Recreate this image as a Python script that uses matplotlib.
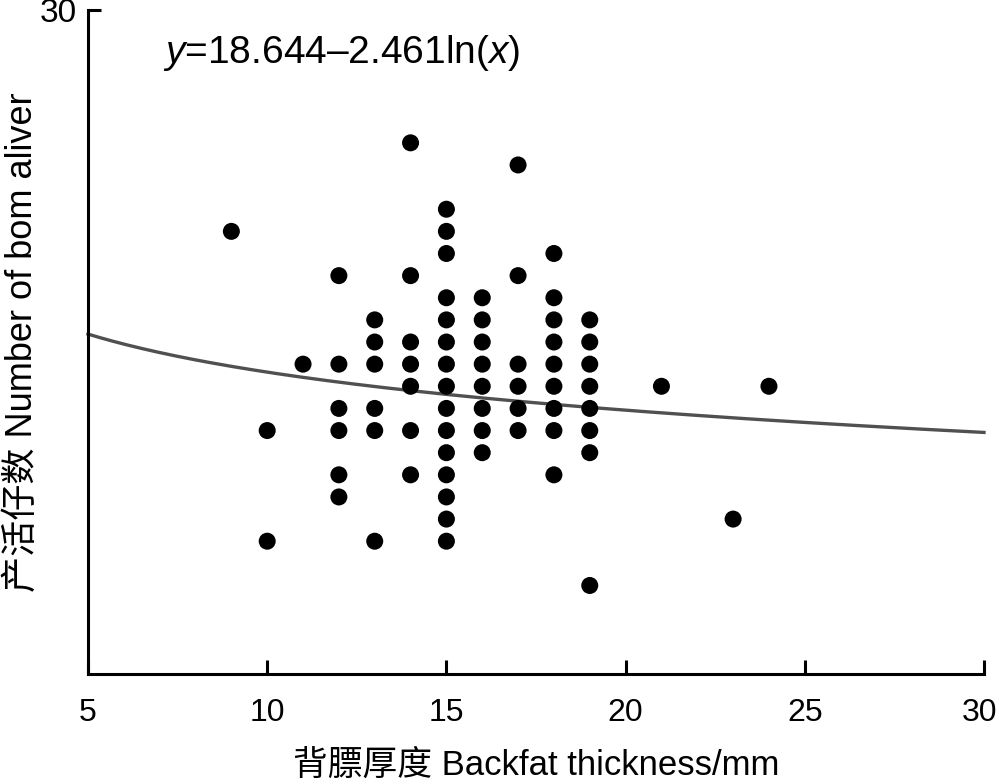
import numpy as np
import matplotlib
matplotlib.use("Agg")
import matplotlib.pyplot as plt
import matplotlib.transforms as mtransforms

plt.rcParams['font.family'] = ['Liberation Sans', 'Noto Sans CJK SC', 'DejaVu Sans']
plt.rcParams['mathtext.fontset'] = 'custom'
plt.rcParams['mathtext.rm'] = 'Liberation Sans'
plt.rcParams['mathtext.it'] = 'Liberation Sans:italic'

# Backfat thickness (mm) and number born alive
backfat = [9, 10, 10, 11,
           12, 12, 12, 12, 12, 12,
           13, 13, 13, 13, 13, 13,
           14, 14, 14, 14, 14, 14, 14,
           15, 15, 15, 15, 15, 15, 15, 15, 15, 15, 15, 15, 15, 15, 15,
           16, 16, 16, 16, 16, 16, 16, 16,
           17, 17, 17, 17, 17, 17,
           18, 18, 18, 18, 18, 18, 18, 18, 18,
           19, 19, 19, 19, 19, 19, 19, 19,
           21, 23, 24]
born_alive = [20, 11, 6, 14,
              18, 14, 12, 11, 9, 8,
              16, 15, 14, 12, 11, 6,
              24, 18, 15, 14, 13, 11, 9,
              21, 20, 19, 17, 16, 15, 14, 13, 12, 11, 10, 9, 8, 7, 6,
              17, 16, 15, 14, 13, 12, 11, 10,
              23, 18, 14, 13, 12, 11,
              19, 17, 16, 15, 14, 13, 12, 11, 9,
              16, 15, 14, 13, 12, 11, 10, 4,
              13, 7, 13]

# fitted curve as drawn in the picture (y = a - b ln x)
curve_a = 19.35
curve_b = 2.48
equation_text = r'$\mathit{y}$=18.644–2.461ln($\mathit{x}$)'

x_ticks = [5, 10, 15, 20, 25, 30]
y_ticks = [30]

fig = plt.figure(figsize=(10, 7.84), dpi=100)
ax = fig.add_axes([0.088, 0.1403, 0.896, 0.8469])

xc = np.linspace(5, 30, 300)
ax.plot(xc, curve_a - curve_b * np.log(xc), color='#505050', lw=2.4, zorder=2, clip_on=False)
ax.scatter(backfat, born_alive, s=150, color='black', edgecolors='none', zorder=3)

ax.set_xlim(5, 30)
ax.set_ylim(0, 30)
ax.set_xticks(x_ticks)
ax.set_xticklabels([str(t) for t in x_ticks])
ax.set_yticks(y_ticks)
ax.set_yticklabels([str(t) for t in y_ticks])

for s in ['top', 'right']:
    ax.spines[s].set_visible(False)
for s in ['left', 'bottom']:
    ax.spines[s].set_linewidth(2.2)
    ax.spines[s].set_color('black')

ax.tick_params(axis='x', direction='in', length=10, width=2.2, pad=17, labelsize=23)
ax.tick_params(axis='y', direction='in', length=9, width=2.2, pad=8, labelsize=24)

# nudge the last x tick label so it stays inside the figure
last = ax.get_xticklabels()[-1]
last.set_transform(last.get_transform() +
                   mtransforms.ScaledTranslation(-4 / 100, 0, fig.dpi_scale_trans))

ax.set_xlabel('背膘厚度 Backfat thickness/mm', fontsize=25)
ax.xaxis.set_label_coords(0.5, -0.137)
ax.xaxis.label.set_va('center')
ax.set_ylabel('产活仔数 Number of bom aliver', fontsize=26)
ax.yaxis.set_label_coords(-0.0737, 0.5)
ax.yaxis.label.set_va('center')

ax.text(0.084, 0.936, equation_text, transform=ax.transAxes, fontsize=28,
        va='center', ha='left')

fig.savefig('out.png', dpi=100)
